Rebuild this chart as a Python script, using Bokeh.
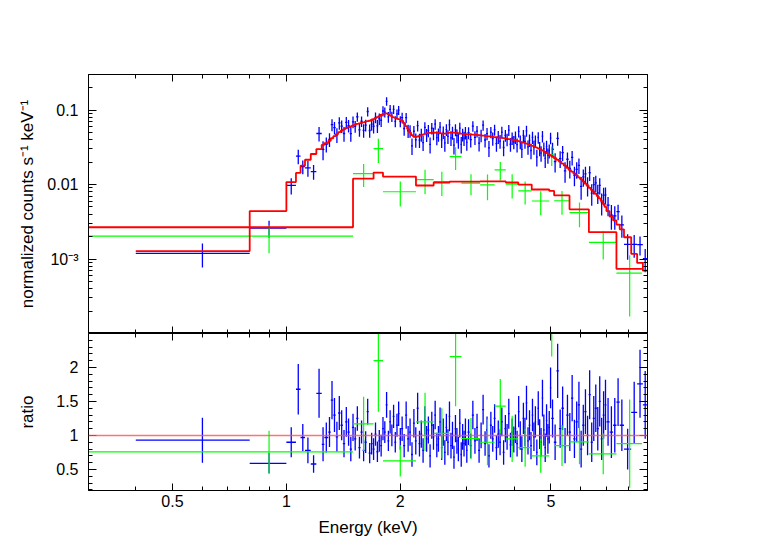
from bokeh.plotting import figure
from bokeh.layouts import column
from bokeh.models import (Range1d, LogAxis, LinearAxis, FixedTicker,
                          CustomJSTickFormatter, Span, ColumnDataSource)
from bokeh.embed import file_html
from bokeh.resources import INLINE

# ---------------- data ----------------
# second instrument (green): bins, model (counts/s/keV), data/model ratio, ratio error
green_lo = [0.3, 1.5, 1.7, 1.8, 2.2, 2.45, 2.7, 2.9, 3.25, 3.55, 3.8, 4.1, 4.45, 4.95, 5.1, 5.6, 6.3, 7.45]
green_hi = [1.5, 1.7, 1.8, 2.2, 2.45, 2.7, 2.9, 3.25, 3.55, 3.8, 4.1, 4.45, 4.95, 5.1, 5.6, 6.3, 7.45, 8.7]
green_model = [0.00267, 0.0120, 0.01445, 0.0128, 0.0097, 0.01064, 0.01096, 0.01096, 0.0110,
               0.0110, 0.01064, 0.0100, 0.00858, 0.0082, 0.00713, 0.00464, 0.00229, 0.000736]
green_ratio = [0.758, 1.17, 2.10, 0.625, 1.20, 1.03, 2.16, 0.955, 0.90,
               1.43, 0.95, 0.82, 0.70, 3.06, 0.85, 0.905, 0.73, 0.88]
green_err = [0.31, 0.40, 0.75, 0.23, 0.43, 0.37, 0.73, 0.30, 0.34,
             0.40, 0.34, 0.28, 0.25, 0.90, 0.30, 0.33, 0.30, 0.65]

# first instrument (blue): bin edges, model per bin, ratio per bin, ratio error per bin
blue_edges = [
    0.4, 0.8, 1.0,
    1.06, 1.09, 1.12, 1.16, 1.2, 1.24, 1.26, 1.29,
    1.31, 1.33, 1.35, 1.37, 1.39, 1.41, 1.43, 1.45, 1.47, 1.49, 1.51,
    1.53, 1.55, 1.57, 1.59, 1.61, 1.63, 1.65, 1.67, 1.69, 1.71, 1.73, 1.75, 1.77, 1.79, 1.81,
    1.83, 1.85, 1.87, 1.89, 1.91, 1.93, 1.95, 1.97, 1.99, 2.01,
    2.035, 2.06, 2.085, 2.11, 2.135, 2.16, 2.185, 2.21, 2.235, 2.26,
    2.285, 2.31, 2.335, 2.36, 2.385, 2.41, 2.435, 2.46, 2.485, 2.51,
    2.535, 2.56, 2.585, 2.61, 2.635, 2.66, 2.685, 2.71, 2.735, 2.76,
    2.785, 2.81, 2.835, 2.86, 2.885, 2.91, 2.935, 2.96, 2.985, 3.01,
    3.05, 3.09, 3.13, 3.17, 3.21, 3.25, 3.29, 3.33, 3.37, 3.41, 3.45, 3.49, 3.53,
    3.57, 3.61, 3.65, 3.69, 3.73, 3.77, 3.81, 3.85, 3.89, 3.93, 3.97, 4.01,
    4.05, 4.09, 4.13, 4.17, 4.21, 4.25, 4.29, 4.33, 4.37, 4.41, 4.45, 4.49, 4.53,
    4.57, 4.61, 4.65, 4.69, 4.73, 4.77, 4.81, 4.85, 4.89, 4.93, 4.97, 5.01,
    5.09, 5.17, 5.25, 5.33, 5.41, 5.49, 5.57, 5.65, 5.73, 5.81, 5.89, 5.97, 6.05,
    6.13, 6.21, 6.29, 6.37, 6.45, 6.53, 6.61, 6.69, 6.77, 6.85, 6.93, 7.01,
    7.15, 7.3, 7.45, 7.6, 7.8, 8.15, 8.45, 8.75, 9.0]
blue_model = [
    0.00128, 0.0044,
    0.0108, 0.0143, 0.0179, 0.0215, 0.0257, 0.0299, 0.0341, 0.0360,
    0.0385, 0.0418, 0.0446, 0.0475, 0.0505, 0.0528, 0.0550, 0.0570, 0.0588, 0.0604, 0.0620,
    0.0636, 0.0650, 0.0662, 0.0673, 0.0685, 0.0697, 0.0708, 0.0718, 0.0735, 0.0757,
    0.0780, 0.0805, 0.0830, 0.0858, 0.0882,
    0.0895, 0.0903, 0.0880, 0.0850, 0.0820, 0.0797, 0.0785, 0.0770, 0.0755, 0.0742,
    0.0720, 0.0665, 0.0610, 0.0555, 0.0500, 0.0460, 0.0440, 0.0434, 0.0441, 0.0449,
    0.0458, 0.0469, 0.0479, 0.0489, 0.0491, 0.0493, 0.0495, 0.0496, 0.0497, 0.0497,
    0.0495, 0.0490, 0.0485, 0.0480, 0.0482, 0.0487, 0.0492, 0.0496, 0.0498, 0.0498,
    0.0497, 0.0495, 0.0492, 0.0488, 0.0485, 0.0482, 0.0479, 0.0477, 0.0475, 0.0473,
    0.0472, 0.0470, 0.0468, 0.0466, 0.0464, 0.0461, 0.0457, 0.0454, 0.0450, 0.0447,
    0.0443, 0.0440, 0.0437, 0.0434, 0.0431, 0.0428, 0.0425, 0.0422, 0.0419, 0.0416,
    0.0412, 0.0408, 0.0404, 0.0400, 0.0396,
    0.0393, 0.0389, 0.0383, 0.0377, 0.0371, 0.0365, 0.0360, 0.0355, 0.0349, 0.0343,
    0.0337, 0.0331, 0.0325, 0.0318, 0.0312, 0.0306, 0.0300, 0.0294, 0.0287, 0.0280,
    0.0273, 0.0266, 0.0260, 0.0254, 0.0248,
    0.0238, 0.0226, 0.0214, 0.0203, 0.0191, 0.0179, 0.0168, 0.0157, 0.0149, 0.0141,
    0.0133, 0.0125, 0.0118, 0.0110, 0.0103, 0.0097, 0.0090, 0.0085, 0.0080, 0.0075,
    0.0070, 0.0065, 0.0060, 0.0055, 0.0050,
    0.0044, 0.0037, 0.0033, 0.0029, 0.0025, 0.00196, 0.00117, 0.000885, 0.000698]
blue_ratio = [
    0.93, 0.59,
    0.90, 1.68, 0.97, 0.78, 0.58, 1.62, 0.87, 0.97,
    1.05, 1.52, 1.30, 0.98, 1.33, 1.15, 0.88, 1.20, 1.05, 0.80, 1.12,
    0.95, 1.25, 0.82, 1.05, 0.78, 0.90, 1.35, 0.74, 0.88, 0.80, 1.02, 0.76, 0.92, 0.85, 1.10,
    1.05, 1.45, 0.92, 1.20, 1.00, 1.28, 0.90, 1.15, 1.32, 0.95,
    1.10, 0.85, 1.30, 0.95, 1.05, 0.72, 1.18, 0.92, 1.40, 0.88,
    1.02, 0.78, 1.22, 0.95, 1.08, 0.70, 1.15, 0.98, 1.30, 0.86,
    0.95, 1.20, 0.82, 1.05, 0.75, 1.12, 0.90, 1.28, 0.85, 1.00,
    0.68, 1.10, 0.92, 0.80, 1.18, 0.72, 0.98, 0.88, 1.05, 0.78,
    1.05, 0.85, 1.30, 0.92, 1.12, 0.78, 1.00, 1.38, 0.88, 1.08,
    0.70, 1.15, 0.95, 1.25, 0.82, 1.02, 0.90, 1.20, 0.75, 1.10,
    0.98, 1.32, 0.86, 1.05, 0.94,
    1.10, 0.88, 1.35, 1.00, 0.80, 1.25, 1.05, 1.48, 0.92, 1.15,
    0.85, 1.30, 0.98, 1.20, 0.75, 1.40, 1.02, 0.90, 1.55, 1.08,
    0.82, 1.22, 0.95, 1.12, 1.70,
    1.25, 0.90, 1.95, 1.10, 1.40, 0.85, 1.30, 1.05, 1.55, 0.95,
    1.20, 1.45, 0.80, 1.15, 1.35, 1.00, 1.60, 0.90, 1.25, 1.40,
    1.10, 1.50, 0.95, 1.30, 1.45,
    1.20, 1.05, 1.15, 1.49, 1.15, 0.80, 1.34, 1.76, 1.45]
blue_err = [
    0.33, 0.15,
    0.22, 0.37, 0.20, 0.19, 0.13, 0.36, 0.25, 0.22,
    0.22, 0.28, 0.25, 0.22, 0.25, 0.22, 0.20, 0.22, 0.20, 0.18, 0.20,
    0.17, 0.18, 0.16, 0.17, 0.16, 0.16, 0.19, 0.15, 0.16, 0.16, 0.17, 0.15, 0.16, 0.16, 0.17,
    0.16, 0.19, 0.15, 0.17, 0.16, 0.17, 0.15, 0.17, 0.18, 0.16,
    0.18, 0.17, 0.20, 0.19, 0.20, 0.18, 0.21, 0.20, 0.23, 0.19,
    0.20, 0.18, 0.21, 0.19, 0.20, 0.17, 0.20, 0.19, 0.21, 0.18,
    0.19, 0.21, 0.18, 0.20, 0.18, 0.20, 0.19, 0.22, 0.19, 0.20,
    0.17, 0.20, 0.19, 0.18, 0.21, 0.18, 0.19, 0.19, 0.20, 0.18,
    0.19, 0.18, 0.21, 0.19, 0.20, 0.18, 0.19, 0.22, 0.18, 0.20,
    0.17, 0.20, 0.19, 0.21, 0.18, 0.20, 0.19, 0.21, 0.18, 0.20,
    0.19, 0.22, 0.18, 0.20, 0.19,
    0.21, 0.19, 0.23, 0.21, 0.19, 0.23, 0.21, 0.25, 0.20, 0.22,
    0.20, 0.24, 0.21, 0.23, 0.19, 0.25, 0.22, 0.21, 0.27, 0.23,
    0.21, 0.24, 0.22, 0.24, 0.30,
    0.28, 0.26, 0.40, 0.28, 0.32, 0.26, 0.30, 0.28, 0.34, 0.28,
    0.30, 0.34, 0.27, 0.30, 0.33, 0.29, 0.36, 0.29, 0.33, 0.35,
    0.32, 0.37, 0.31, 0.35, 0.37,
    0.35, 0.38, 0.40, 0.35, 0.38, 0.30, 0.45, 0.50, 0.50]

x_major = [0.5, 1, 2, 5]
x_minor = [0.4, 0.6, 0.7, 0.8, 0.9, 3, 4, 6, 7, 8]
flux_major = [1e-4, 1e-3, 1e-2, 1e-1]
ratio_major = [0.5, 1, 1.5, 2]

# ---------------- styling constants ----------------
FONT = "Liberation Sans"
BLUE = "#0000ff"
GREEN = "#00ff00"
RED = "#ff0000"


def make_source(lo, hi, model, ratio, err):
    n = min(len(lo), len(hi), len(model), len(ratio), len(err))
    xc = [(lo[i] + hi[i]) / 2.0 for i in range(n)]
    flux = [model[i] * ratio[i] for i in range(n)]
    ferr = [model[i] * err[i] for i in range(n)]
    return ColumnDataSource(dict(
        lo=lo[:n], hi=hi[:n], x=xc,
        flux=flux, flo=[f - e for f, e in zip(flux, ferr)], fhi=[f + e for f, e in zip(flux, ferr)],
        r=ratio[:n], rlo=[ratio[i] - err[i] for i in range(n)], rhi=[ratio[i] + err[i] for i in range(n)],
    ))


bsrc = make_source(blue_edges[:-1], blue_edges[1:], blue_model, blue_ratio, blue_err)
gsrc = make_source(green_lo, green_hi, green_model, green_ratio, green_err)
green_edges = green_lo + [green_hi[-1]]

blank = CustomJSTickFormatter(code="return '';")
x_fmt = CustomJSTickFormatter(code="return String(tick);")
flux_fmt = CustomJSTickFormatter(code="""
if (Math.abs(tick - 0.001) < 1e-9) return '10\u207b\u00b3';
if (tick < 0.0005) return '';
return String(tick);
""")
ratio_fmt = CustomJSTickFormatter(code="return String(Math.round(tick*100)/100);")

y_minor = [m * 10.0 ** e for e in (-4, -3, -2, -1) for m in range(2, 10) if m * 10.0 ** e <= 0.3]
r_minor = [round(0.2 + 0.1 * i, 1) for i in range(23)]
r_minor = [v for v in r_minor if v not in (0.5, 1.0, 1.5, 2.0)]


def style_axis(ax, labels, major_len=8, minor_len=4, standoff=4):
    ax.axis_line_color = "black"
    ax.axis_line_width = 1
    ax.major_tick_line_color = "black"
    ax.minor_tick_line_color = "black"
    ax.major_tick_in = major_len
    ax.major_tick_out = 0
    ax.minor_tick_in = minor_len
    ax.minor_tick_out = 0
    if labels:
        ax.major_label_text_font = FONT
        ax.major_label_text_font_size = "16px"
        ax.major_label_text_color = "black"
        ax.major_label_standoff = standoff
        ax.axis_label_text_font = FONT
        ax.axis_label_text_font_size = "17px"
        ax.axis_label_text_font_style = "normal"
        ax.axis_label_text_color = "black"
    else:
        ax.formatter = blank
        ax.major_label_text_font_size = "0px"
        ax.major_label_standoff = 0


x_range = Range1d(0.3, 9.0)
xtick = FixedTicker(ticks=x_major, minor_ticks=x_minor)

# ---------------- top panel ----------------
top = figure(x_axis_type="log", y_axis_type="log", x_range=x_range,
             y_range=Range1d(1e-4, 0.3), frame_width=559, frame_height=259,
             x_axis_location=None, y_axis_location=None,
             toolbar_location=None, output_backend="svg",
             min_border_left=88, min_border_right=20, min_border_top=74, min_border_bottom=0)
top.xgrid.grid_line_color = None
top.ygrid.grid_line_color = None
top.outline_line_color = "black"
top.background_fill_color = "white"
top.border_fill_color = "white"

ytick_top = FixedTicker(ticks=flux_major, minor_ticks=y_minor)
ax = LogAxis(ticker=ytick_top, formatter=flux_fmt, axis_label="normalized counts s\u207b\u00b9 keV\u207b\u00b9")
style_axis(ax, True, standoff=10)
ax.axis_label_standoff = 7
top.add_layout(ax, "left")
ax = LogAxis(ticker=ytick_top)
style_axis(ax, False)
top.add_layout(ax, "right")
ax = LogAxis(ticker=xtick)
style_axis(ax, False, major_len=7, minor_len=4)
top.add_layout(ax, "below")
ax = LogAxis(ticker=xtick)
style_axis(ax, False, major_len=7, minor_len=4)
top.add_layout(ax, "above")

top.segment(x0="lo", y0="flux", x1="hi", y1="flux", source=bsrc, line_color=BLUE, line_width=1.3)
top.segment(x0="x", y0="flo", x1="x", y1="fhi", source=bsrc, line_color=BLUE, line_width=1.3)
top.segment(x0="lo", y0="flux", x1="hi", y1="flux", source=gsrc, line_color=GREEN, line_width=1.2)
top.segment(x0="x", y0="flo", x1="x", y1="fhi", source=gsrc, line_color=GREEN, line_width=1.2)
top.step(x=blue_edges, y=blue_model + [blue_model[-1]], mode="after", line_color=RED, line_width=1.8)
top.step(x=green_edges, y=green_model + [green_model[-1]], mode="after", line_color=RED, line_width=1.8)

# ---------------- ratio panel ----------------
bot = figure(x_axis_type="log", x_range=x_range, y_range=Range1d(0.19, 2.5),
             frame_width=559, frame_height=157,
             x_axis_location=None, y_axis_location=None,
             toolbar_location=None, output_backend="svg",
             min_border_left=88, min_border_right=20, min_border_top=0, min_border_bottom=52)
bot.xgrid.grid_line_color = None
bot.ygrid.grid_line_color = None
bot.outline_line_color = "black"
bot.background_fill_color = "white"
bot.border_fill_color = "white"

rtick = FixedTicker(ticks=ratio_major, minor_ticks=r_minor)
ax = LinearAxis(ticker=rtick, formatter=ratio_fmt, axis_label="ratio")
style_axis(ax, True, standoff=10)
ax.axis_label_standoff = 16
bot.add_layout(ax, "left")
ax = LinearAxis(ticker=rtick)
style_axis(ax, False)
bot.add_layout(ax, "right")
ax = LogAxis(ticker=xtick, formatter=x_fmt, axis_label="Energy (keV)")
style_axis(ax, True, major_len=7, minor_len=4, standoff=4)
ax.axis_label_standoff = 8
bot.add_layout(ax, "below")
ax = LogAxis(ticker=xtick)
style_axis(ax, False, major_len=7, minor_len=4)
bot.add_layout(ax, "above")

bot.add_layout(Span(location=1.0, dimension="width", line_color="#ff5050", line_width=1.6, line_alpha=0.8))
bot.segment(x0="lo", y0="r", x1="hi", y1="r", source=bsrc, line_color=BLUE, line_width=1.3)
bot.segment(x0="x", y0="rlo", x1="x", y1="rhi", source=bsrc, line_color=BLUE, line_width=1.3)
bot.segment(x0="lo", y0="r", x1="hi", y1="r", source=gsrc, line_color=GREEN, line_width=1.2)
bot.segment(x0="x", y0="rlo", x1="x", y1="rhi", source=gsrc, line_color=GREEN, line_width=1.2)

layout = column(top, bot, spacing=0)
open("out.html", "w").write(file_html(layout, INLINE))
